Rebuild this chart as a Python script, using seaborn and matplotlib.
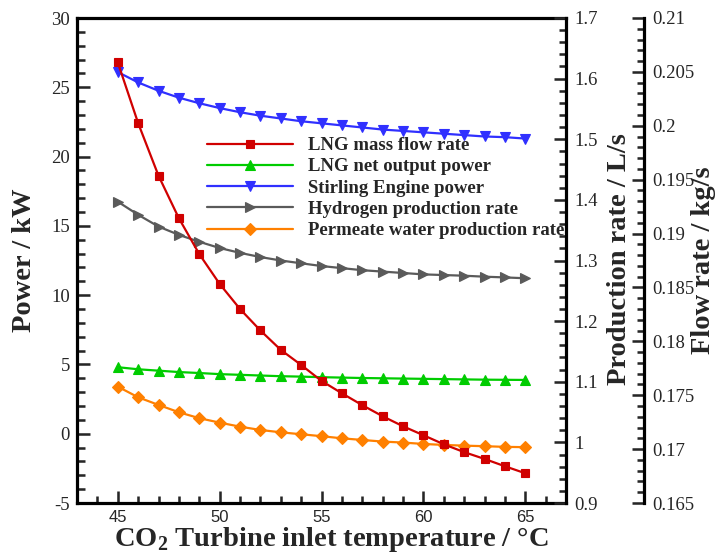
import matplotlib
matplotlib.use("Agg")
import matplotlib.pyplot as plt
import numpy as np
import pandas as pd
import seaborn as sns
from matplotlib.ticker import MultipleLocator, FormatStrFormatter
from matplotlib.font_manager import FontProperties

# CO2 turbine inlet temperature (°C)
temperature = list(range(45, 66))

# Power axis (kW)
lng_net_power = [4.80, 4.65, 4.55, 4.45, 4.38, 4.30, 4.25, 4.20, 4.15, 4.12, 4.08,
                 4.05, 4.02, 4.00, 3.98, 3.96, 3.94, 3.92, 3.90, 3.89, 3.88]
stirling_power = [26.10, 25.35, 24.75, 24.25, 23.85, 23.50, 23.20, 22.95, 22.75, 22.55, 22.40,
                  22.25, 22.10, 21.95, 21.85, 21.75, 21.65, 21.55, 21.45, 21.40, 21.30]

# Production rate axis (L/s)
hydrogen_rate = [1.3971, 1.3754, 1.3560, 1.3423, 1.3309, 1.3206, 1.3126, 1.3057, 1.3000, 1.2954, 1.2909,
                 1.2874, 1.2840, 1.2817, 1.2794, 1.2771, 1.2760, 1.2749, 1.2733, 1.2721, 1.2707]
permeate_rate = [1.0920, 1.0744, 1.0618, 1.0497, 1.0399, 1.0326, 1.0259, 1.0205, 1.0166, 1.0134, 1.0102,
                 1.0067, 1.0040, 1.0013, 0.9997, 0.9974, 0.9958, 0.9946, 0.9937, 0.9926, 0.9921]

# Flow rate axis (kg/s)
lng_mass_flow = [0.20589, 0.20025, 0.19537, 0.19142, 0.18810, 0.18533, 0.18300, 0.18101, 0.17921, 0.17781, 0.17633,
                 0.17518, 0.17408, 0.17305, 0.17212, 0.17129, 0.17045, 0.16972, 0.16909, 0.16841, 0.16776]

df = pd.DataFrame({
    "T": temperature,
    "lng_net": lng_net_power,
    "stirling": stirling_power,
    "hydrogen": hydrogen_rate,
    "permeate": permeate_rate,
    "lng_flow": lng_mass_flow,
})

sns.set_style("ticks")
plt.rcParams.update({
    "font.family": ["Liberation Serif", "DejaVu Serif"],
    "mathtext.fontset": "custom",
    "mathtext.rm": "Liberation Serif",
    "mathtext.bf": "Liberation Serif:bold",
    "axes.unicode_minus": False,
})

W, H = 715, 556
fig = plt.figure(figsize=(W / 100, H / 100), dpi=100)
L, R, T, B = 77, 566, 18, 503
ax = fig.add_axes([L / W, 1 - B / H, (R - L) / W, (B - T) / H])
ax_prod = ax.twinx()
ax_flow = ax.twinx()
ax_flow.spines["right"].set_position(("axes", (644 - L) / (R - L)))

SPINE_W = 2.3
LINE_W = 1.6

series = [
    (ax_flow, "lng_flow", "#d00000", "s", 6.0, "LNG mass flow rate"),
    (ax, "lng_net", "#00cc00", "^", 7.0, "LNG net output power"),
    (ax, "stirling", "#3030ff", "v", 7.0, "Stirling Engine power"),
    (ax_prod, "hydrogen", "#5a5a5a", ">", 7.0, "Hydrogen production rate"),
    (ax_prod, "permeate", "#ff8000", "D", 6.0, "Permeate water production rate"),
]
handles, labels = [], []
for target, col, color, mk, ms, lab in series:
    sns.lineplot(data=df, x="T", y=col, ax=target, color=color, marker=mk,
                 markersize=ms, markeredgecolor=color, markeredgewidth=0.8,
                 linewidth=LINE_W, legend=False)
    handles.append(target.lines[-1])
    labels.append(lab)

# Axis limits and ticks
ax.set_xlim(43, 67)
ax.set_ylim(-5, 30)
ax_prod.set_ylim(0.9, 1.7)
ax_flow.set_ylim(0.165, 0.21)

ax.xaxis.set_major_locator(MultipleLocator(5))
ax.xaxis.set_minor_locator(MultipleLocator(1))
ax.yaxis.set_major_locator(MultipleLocator(5))
ax.yaxis.set_minor_locator(MultipleLocator(1))
ax_prod.yaxis.set_major_locator(MultipleLocator(0.1))
ax_prod.yaxis.set_minor_locator(MultipleLocator(0.02))
ax_prod.yaxis.set_major_formatter(FormatStrFormatter("%g"))
ax_flow.yaxis.set_major_locator(MultipleLocator(0.005))
ax_flow.yaxis.set_minor_locator(MultipleLocator(0.001))
ax_flow.yaxis.set_major_formatter(FormatStrFormatter("%g"))
ax.yaxis.set_major_formatter(FormatStrFormatter("%g"))

serif_tick = FontProperties(family="Liberation Serif", size=13.5)
sans_tick = FontProperties(family="Liberation Sans", size=12)

ax.tick_params(axis="x", which="both", direction="in", bottom=True, top=False,
               width=SPINE_W * 0.8, pad=5)
ax.tick_params(axis="x", which="major", length=9)
ax.tick_params(axis="x", which="minor", length=5)
ax.tick_params(axis="y", which="both", direction="in", left=True, right=False,
               width=SPINE_W * 0.8, pad=5)
ax.tick_params(axis="y", which="major", length=9)
ax.tick_params(axis="y", which="minor", length=5.5)
for a in (ax_prod, ax_flow):
    a.tick_params(axis="y", which="both", direction="in", left=False, right=True,
                  width=SPINE_W * 0.8, pad=6)
    a.tick_params(axis="y", which="major", length=9)
    a.tick_params(axis="y", which="minor", length=5)

for lbl in ax.get_xticklabels():
    lbl.set_fontproperties(sans_tick)
for a in (ax, ax_prod, ax_flow):
    for lbl in a.get_yticklabels():
        lbl.set_fontproperties(serif_tick)

# Spines
for s in ("left", "bottom", "top"):
    ax.spines[s].set_linewidth(SPINE_W)
ax.spines["right"].set_visible(False)
for s in ("left", "top", "bottom"):
    ax_prod.spines[s].set_visible(False)
    ax_flow.spines[s].set_visible(False)
ax_prod.spines["right"].set_linewidth(SPINE_W)
ax_flow.spines["right"].set_linewidth(SPINE_W)
for a in (ax, ax_prod, ax_flow):
    for s in a.spines.values():
        s.set_color("black")

# Axis titles
label_font = dict(family="Liberation Serif", weight="bold", size=20.5)
ax.set_xlabel(r"CO$_{\mathbf{2}}$ Turbine inlet temperature / °C", **label_font)
ax.set_ylabel("Power / kW", **label_font)
ax_prod.set_ylabel("Production rate / L/s", **label_font)
ax_flow.set_ylabel("Flow rate / kg/s", **label_font)
ax.xaxis.set_label_coords((331.5 - L) / (R - L), (B - 540) / (B - T))
ax.xaxis.label.set_va("center")
ax.yaxis.set_label_coords((25 - L) / (R - L), (B - 260) / (B - T))
ax.yaxis.label.set_va("center")
ax_prod.yaxis.set_label_coords((619 - L) / (R - L), (B - 259) / (B - T))
ax_prod.yaxis.label.set_va("center")
ax_flow.yaxis.set_label_coords((703 - L) / (R - L), (B - 260) / (B - T))
ax_flow.yaxis.label.set_va("center")

# Legend
leg = ax_flow.legend(handles, labels, loc="upper left",
                     bbox_to_anchor=(207 / W, 1 - 137 / H), bbox_transform=fig.transFigure,
                     frameon=False, borderpad=0, borderaxespad=0,
                     handlelength=4.6, handletextpad=0.8, labelspacing=0.22,
                     prop=FontProperties(family="Liberation Serif", weight="bold", size=13.5))

fig.savefig("out.png", dpi=100)
